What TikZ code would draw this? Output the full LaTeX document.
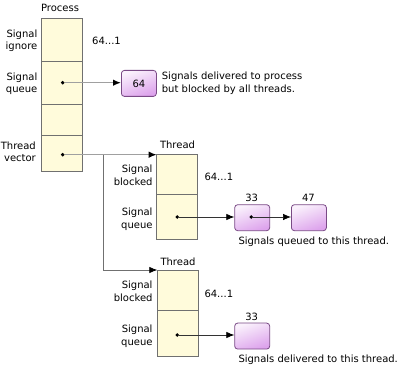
\documentclass[tikz,border=0pt]{standalone}
\usepackage{fontspec}
\setmainfont{DejaVu Sans}
\usetikzlibrary{arrows.meta,positioning}
\definecolor{cellfill}{HTML}{FFFBDB}
\definecolor{celledge}{HTML}{707070}
\definecolor{sigedge}{HTML}{7A4A86}
\definecolor{sigdark}{HTML}{DDA3EC}
\definecolor{graylink}{HTML}{A0A0A0}
\tikzset{
  cell/.style={draw=celledge, line width=0.8pt, fill=cellfill, minimum width=40.6pt, inner sep=0pt, outer sep=0pt, anchor=north west},
  sigbox/.style={draw=sigedge, line width=0.8pt, rounded corners=3pt, minimum width=35pt, minimum height=26pt, inner sep=0pt, shading=axis, top color=white!85!sigdark, bottom color=sigdark, shading angle=20, anchor=north west, font=\fontsize{10}{12}\selectfont},
  lbl/.style={font=\fontsize{10}{12.5}\selectfont, inner sep=0pt, align=right},
  txt/.style={font=\fontsize{10}{12.5}\selectfont, inner sep=0pt, align=left, anchor=west},
  dotc/.style={circle, fill=black, inner sep=0pt, minimum size=3.8pt},
  procarrow/.style={draw=graylink, line width=1.4pt, -{Latex[length=8pt,width=6.5pt,black]}},
  branchar/.style={draw=graylink!70!black, line width=0.8pt, -{Latex[length=8pt,width=6.5pt,black]}},
  thrarrow/.style={draw=black!80, line width=0.7pt, -{Latex[length=8pt,width=6.5pt,black]}},
}
\begin{document}
\begin{tikzpicture}[x=1pt,y=-1pt]
\useasboundingbox (0,0) rectangle (400,366);
% Process
\node[cell, minimum height=43.4pt] (p1) at (41.7,18.3) {};
\node[cell, minimum height=42.3pt] (p2) at (41.7,61.7) {};
\node[cell, minimum height=31pt] (p3) at (41.7,104) {};
\node[cell, minimum height=36.3pt] (p4) at (41.7,135) {};
\draw[celledge, line width=0.8pt] (p1.north west) rectangle (p4.south east);
\node[lbl] (ptitle) at (60,7.5) {Process};
\node[lbl, anchor=east] (pl1) at (37.5,40.5) {Signal\\ignore};
\node[lbl, anchor=east] (pl2) at (37.5,83.5) {Signal\\queue};
\node[lbl, anchor=east] (pl4) at (36,152) {Thread\\vector};
\node[txt] (pr1) at (92,40.7) {64...1};
\node[dotc] (d1) at (62.7,82.7) {};
\node[dotc] (d2) at (62.7,154.7) {};
% signal 64
\node[sigbox] (s64) at (121,70) {64};
\node[txt] (s64t) at (161.7,83) {Signals delivered to process\\but blocked by all threads.};
\draw[procarrow] (d1) -- (d1 -| s64.west);
% Thread 1
\node[cell, minimum height=40.3pt] (t1a) at (156.7,154) {};
\node[cell, minimum height=45pt] (t1b) at (156.7,194.3) {};
\node[lbl] (t1title) at (177.5,145) {Thread};
\node[lbl, anchor=east] (t1l1) at (152.7,175.5) {Signal\\blocked};
\node[lbl, anchor=east] (t1l2) at (152.7,219) {Signal\\queue};
\node[txt] (t1r) at (204.3,176.7) {64...1};
\node[dotc] (d3) at (177.3,217) {};
\node[sigbox] (s33a) at (234.3,204.3) {};
\node[sigbox] (s47) at (291,204.3) {};
\node[lbl] (l33a) at (251.7,197.5) {33};
\node[lbl] (l47) at (308.5,197.5) {47};
\node[dotc] (d4) at (251.3,217) {};
\node[txt] (t1t) at (238.3,242) {Signals queued to this thread.};
\draw[thrarrow] (d3) -- (d3 -| s33a.west);
\draw[thrarrow] (d4) -- (d4 -| s47.west);
% Thread 2
\node[cell, minimum height=40.3pt] (t2a) at (157.3,270) {};
\node[cell, minimum height=45.7pt] (t2b) at (157.3,310.3) {};
\node[lbl] (t2title) at (178,261.7) {Thread};
\node[lbl, anchor=east] (t2l1) at (152.7,291.5) {Signal\\blocked};
\node[lbl, anchor=east] (t2l2) at (152.7,336) {Signal\\queue};
\node[txt] (t2r) at (204.3,294.3) {64...1};
\node[dotc] (d5) at (177.3,335) {};
\node[sigbox] (s33b) at (234.3,322.7) {};
\node[lbl] (l33b) at (251.7,316.5) {33};
\node[txt] (t2t) at (238.3,359.5) {Signals delivered to this thread.};
\draw[thrarrow] (d5) -- (d5 -| s33b.west);
% thread vector links
\coordinate (br) at (103.3,154.7);
\draw[procarrow] (d2) -- (d2 -| t1a.west);
\draw[branchar] (br) |- (t2a.north west);
\end{tikzpicture}
\end{document}
